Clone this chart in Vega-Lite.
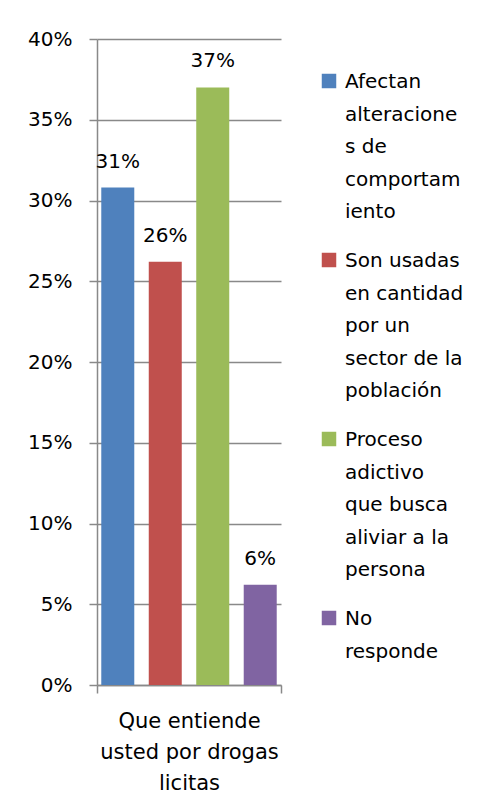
{
  "$schema": "https://vega.github.io/schema/vega-lite/v6.json",
  "width": 184,
  "height": 646,
  "autosize": {"type": "none"},
  "padding": {"left": 97, "top": 39, "right": 212, "bottom": 127},
  "background": "white",
  "config": {
    "view": {"stroke": null},
    "font": "DejaVu Sans",
    "axis": {"domainColor": "#898989", "tickColor": "#898989", "gridColor": "#898989", "labelColor": "#000000", "labelFont": "DejaVu Sans", "labelFontSize": 20}
  },
  "data": {
    "values": [
      {"pregunta": "Que entiende usted por drogas licitas", "serie": "Afectan alteraciones de comportamiento", "valor": 0.308},
      {"pregunta": "Que entiende usted por drogas licitas", "serie": "Son usadas en cantidad por un sector de la población", "valor": 0.262},
      {"pregunta": "Que entiende usted por drogas licitas", "serie": "Proceso adictivo que busca aliviar a la persona", "valor": 0.37},
      {"pregunta": "Que entiende usted por drogas licitas", "serie": "No responde", "valor": 0.062}
    ]
  },
  "encoding": {
    "x": {
      "field": "pregunta", "type": "nominal", "title": null,
      "scale": {"paddingInner": 0, "paddingOuter": 0},
      "axis": {
        "labelAngle": 0, "tickBand": "extent", "tickSize": 8, "tickWidth": 1.5, "domainWidth": 1.5,
        "labelPadding": 17, "labelBaseline": "top", "labelLineHeight": 31, "labelLimit": 400, "labelFontSize": 21,
        "labelExpr": "datum.label ? ['Que entiende', 'usted por drogas', 'licitas'] : ''"
      }
    },
    "xOffset": {
      "field": "serie", "type": "nominal", "sort": null,
      "scale": {"paddingInner": 0.305, "paddingOuter": 0.09}
    },
    "y": {
      "field": "valor", "type": "quantitative", "title": null,
      "scale": {"domain": [0, 0.4], "nice": false},
      "axis": {
        "format": ".0%", "values": [0, 0.05, 0.1, 0.15, 0.2, 0.25, 0.3, 0.35, 0.4],
        "tickSize": 8, "tickWidth": 1.5, "gridWidth": 1.5, "domainWidth": 1.5,
        "labelPadding": 17, "grid": true
      }
    }
  },
  "layer": [
    {
      "mark": {"type": "bar"},
      "encoding": {
        "color": {
          "field": "serie", "type": "nominal", "sort": null, "title": null,
          "scale": {"range": ["#4F81BD", "#C0504D", "#9BBB59", "#8064A2"]},
          "legend": {
            "orient": "none", "legendX": 222, "legendY": 32, "padding": 0,
            "symbolType": "square", "symbolSize": 210, "symbolStrokeWidth": 0,
            "labelFont": "DejaVu Sans", "labelFontSize": 20, "labelColor": "#000000",
            "labelBaseline": "top", "labelOffset": 6, "labelLimit": 300,
            "rowPadding": 28,
            "encode": {"labels": {"update": {"lineHeight": {"value": 32.5}, "dy": {"value": -9}}}},
            "labelExpr": "datum.label == 'Afectan alteraciones de comportamiento' ? ['Afectan', 'alteracione', 's de', 'comportam', 'iento'] : datum.label == 'Son usadas en cantidad por un sector de la población' ? ['Son usadas', 'en cantidad', 'por un', 'sector de la', 'población'] : datum.label == 'Proceso adictivo que busca aliviar a la persona' ? ['Proceso', 'adictivo', 'que busca', 'aliviar a la', 'persona'] : ['No', 'responde']"
          }
        }
      }
    },
    {
      "mark": {"type": "text", "baseline": "middle", "dy": -26, "fontSize": 20, "font": "DejaVu Sans", "color": "#000000"},
      "encoding": {
        "text": {"field": "valor", "type": "quantitative", "format": ".0%"}
      }
    }
  ]
}
